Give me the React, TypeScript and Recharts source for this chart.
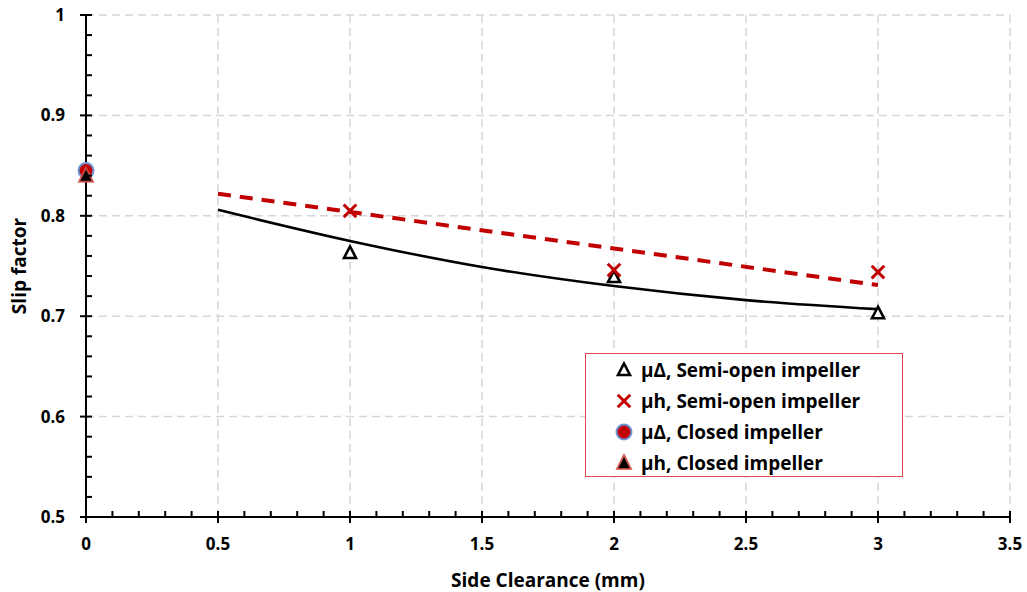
import React from 'react';
import {
  ComposedChart,
  Line,
  Scatter,
  XAxis,
  YAxis,
  ReferenceLine,
  Legend,
} from 'recharts';

// Measured slip factors
const semiOpenClearance = [1, 2, 3];
const semiOpenMuDelta = [0.763, 0.739, 0.703];
const semiOpenMuH = [0.805, 0.746, 0.744];
const closedClearance = [0];
const closedMuDelta = [0.845];
const closedMuH = [0.84];

// Trend curves
const trendClearance = [0.5, 1, 1.5, 2, 2.5, 3];
const trendMuDelta = [0.806, 0.775, 0.749, 0.73, 0.716, 0.707];
const fitClearance = [0.5, 3];
const fitMuH = [0.822, 0.731];

// Axis ticks: labelled majors, unlabelled minors in between
const xMajorTicks = [0, 0.5, 1, 1.5, 2, 2.5, 3, 3.5];
const xAllTicks = Array.from({ length: 36 }, (_, i) => i / 10);
const yMajorTicks = [0.5, 0.6, 0.7, 0.8, 0.9, 1];
const yAllTicks = Array.from({ length: 26 }, (_, i) => Math.round((0.5 + i * 0.02) * 100) / 100);

// Dashed grid at the labelled values (the axes themselves cover 0 and 0.5)
const xGridValues = [0.5, 1, 1.5, 2, 2.5, 3, 3.5];
const yGridValues = [0.6, 0.7, 0.8, 0.9, 1];

const legendLabels = [
  'μΔ, Semi-open impeller',
  'μh, Semi-open impeller',
  'μΔ, Closed impeller',
  'μh, Closed impeller',
];

const RED = '#c00000';
const GRID = '#d6d6d6';
const FONT = '"Open Sans", "Liberation Sans", sans-serif';

const toPoints = (xs: number[], ys: number[]) => xs.map((x, i) => ({ x, y: ys[i] }));

const semiOpenMuDeltaData = toPoints(semiOpenClearance, semiOpenMuDelta);
const semiOpenMuHData = toPoints(semiOpenClearance, semiOpenMuH);
const closedMuDeltaData = toPoints(closedClearance, closedMuDelta);
const closedMuHData = toPoints(closedClearance, closedMuH);
const trendMuDeltaData = toPoints(trendClearance, trendMuDelta);
const fitMuHData = toPoints(fitClearance, fitMuH);

const isMajor = (v: number, majors: number[]) => majors.some((m) => Math.abs(m - v) < 1e-6);

type MarkProps = { cx?: number; cy?: number };

const OpenTriangle = ({ cx = 0, cy = 0 }: MarkProps) => (
  <polygon
    points={`${cx},${cy - 6.5} ${cx + 6},${cy + 5} ${cx - 6},${cy + 5}`}
    fill="#ffffff"
    stroke="#000000"
    strokeWidth={2.6}
    strokeLinejoin="miter"
  />
);

const Cross = ({ cx = 0, cy = 0 }: MarkProps) => (
  <g stroke={RED} strokeWidth={3} strokeLinecap="butt">
    <line x1={cx - 6.3} y1={cy - 6.3} x2={cx + 6.3} y2={cy + 6.3} />
    <line x1={cx - 6.3} y1={cy + 6.3} x2={cx + 6.3} y2={cy - 6.3} />
  </g>
);

const FilledCircle = ({ cx = 0, cy = 0 }: MarkProps) => (
  <circle cx={cx} cy={cy} r={7.5} fill={RED} stroke="#6f95d8" strokeWidth={2} />
);

const FilledTriangle = ({ cx = 0, cy = 0 }: MarkProps) => (
  <polygon
    points={`${cx},${cy - 8} ${cx + 7},${cy + 6} ${cx - 7},${cy + 6}`}
    fill="#000000"
    stroke="#d9534f"
    strokeOpacity={0.85}
    strokeWidth={2}
  />
);

const legendMarks = [OpenTriangle, Cross, FilledCircle, FilledTriangle];

const LegendBox = () => (
  <div
    style={{
      width: 318,
      height: 124,
      boxSizing: 'border-box',
      border: '1px solid #e0474c',
      background: '#ffffff',
      fontFamily: FONT,
      fontWeight: 700,
      fontSize: 19,
      color: '#000000',
    }}
  >
    {legendLabels.map((label, i) => {
      const Mark = legendMarks[i];
      return (
        <div key={label} style={{ height: 31, display: 'flex', alignItems: 'center', position: 'relative' }}>
          <svg width={20} height={20} style={{ position: 'absolute', left: 28 }}>
            <Mark cx={10} cy={10} />
          </svg>
          <span style={{ position: 'absolute', left: 55, whiteSpace: 'nowrap' }}>{label}</span>
        </div>
      );
    })}
  </div>
);

const labelStyle = { fill: '#000000', fontFamily: FONT, fontWeight: 700, fontSize: 17 };

type TickProps = { x?: number; y?: number; payload?: { value: number } };

// Bottom axis: majors cross the axis line and carry a label, minors point inward
const XTick = ({ x = 0, y = 0, payload }: TickProps) => {
  const v = payload ? payload.value : 0;
  const major = isMajor(v, xMajorTicks);
  return (
    <g>
      <line x1={x} x2={x} y1={y - 6} y2={major ? y + 6 : y} stroke="#000000" strokeWidth={2} />
      {major && (
        <text x={x} y={y + 21} dy="0.71em" textAnchor="middle" style={labelStyle}>
          {String(v)}
        </text>
      )}
    </g>
  );
};

// Left axis: same convention, minors point into the plot
const YTick = ({ x = 0, y = 0, payload }: TickProps) => {
  const v = payload ? payload.value : 0;
  const major = isMajor(v, yMajorTicks);
  return (
    <g>
      <line x1={major ? x - 6 : x} x2={x + 6} y1={y} y2={y} stroke="#000000" strokeWidth={2} />
      {major && (
        <text x={x - 21} y={y} dy="0.355em" textAnchor="end" style={labelStyle}>
          {String(v)}
        </text>
      )}
    </g>
  );
};

export default function App() {
  return (
    <div style={{ position: 'absolute', left: 0, top: 0, width: 1027, height: 592, background: '#ffffff' }}>
      <ComposedChart
        width={1027}
        height={592}
        margin={{ top: 15, right: 17, bottom: 0, left: 0 }}
      >
        {xGridValues.map((v) => (
          <ReferenceLine key={`gx${v}`} x={v} stroke={GRID} strokeWidth={1.5} strokeDasharray="8 5" />
        ))}
        {yGridValues.map((v) => (
          <ReferenceLine key={`gy${v}`} y={v} stroke={GRID} strokeWidth={1.5} strokeDasharray="8 5" />
        ))}
        <XAxis
          type="number"
          dataKey="x"
          domain={[0, 3.5]}
          ticks={xAllTicks}
          interval={0}
          height={75}
          tick={<XTick />}
          tickSize={0}
          tickMargin={0}
          tickLine={false}
          axisLine={{ stroke: '#000000', strokeWidth: 2 }}
          label={{
            value: 'Side Clearance (mm)',
            position: 'insideBottom',
            offset: 5,
            style: { fill: '#000000', fontFamily: FONT, fontWeight: 700, fontSize: 19 },
          }}
        />
        <YAxis
          type="number"
          domain={[0.5, 1]}
          ticks={yAllTicks}
          interval={0}
          width={86}
          tick={<YTick />}
          tickSize={0}
          tickMargin={0}
          tickLine={false}
          axisLine={{ stroke: '#000000', strokeWidth: 2 }}
          label={{
            value: 'Slip factor',
            angle: -90,
            position: 'insideLeft',
            offset: 19,
            style: { fill: '#000000', fontFamily: FONT, fontWeight: 700, fontSize: 19, textAnchor: 'middle' },
          }}
        />
        <Line
          data={trendMuDeltaData}
          dataKey="y"
          type="monotone"
          stroke="#000000"
          strokeWidth={2.6}
          dot={false}
          activeDot={false}
          isAnimationActive={false}
          legendType="none"
        />
        <Line
          data={fitMuHData}
          dataKey="y"
          type="linear"
          stroke={RED}
          strokeWidth={4}
          strokeDasharray="13 9"
          dot={false}
          activeDot={false}
          isAnimationActive={false}
          legendType="none"
        />
        <Scatter
          name={legendLabels[0]}
          data={semiOpenMuDeltaData}
          dataKey="y"
          shape={(p: MarkProps) => <OpenTriangle cx={p.cx} cy={p.cy} />}
          isAnimationActive={false}
        />
        <Scatter
          name={legendLabels[1]}
          data={semiOpenMuHData}
          dataKey="y"
          shape={(p: MarkProps) => <Cross cx={p.cx} cy={p.cy} />}
          isAnimationActive={false}
        />
        <Scatter
          name={legendLabels[2]}
          data={closedMuDeltaData}
          dataKey="y"
          shape={(p: MarkProps) => <FilledCircle cx={p.cx} cy={p.cy} />}
          isAnimationActive={false}
        />
        <Scatter
          name={legendLabels[3]}
          data={closedMuHData}
          dataKey="y"
          shape={(p: MarkProps) => <FilledTriangle cx={p.cx} cy={p.cy} />}
          isAnimationActive={false}
        />
        <Legend
          layout="horizontal"
          verticalAlign="middle"
          align="center"
          content={() => <LegendBox />}
          wrapperStyle={{ left: 585, top: 353, width: 318, height: 124 }}
        />
      </ComposedChart>
    </div>
  );
}
